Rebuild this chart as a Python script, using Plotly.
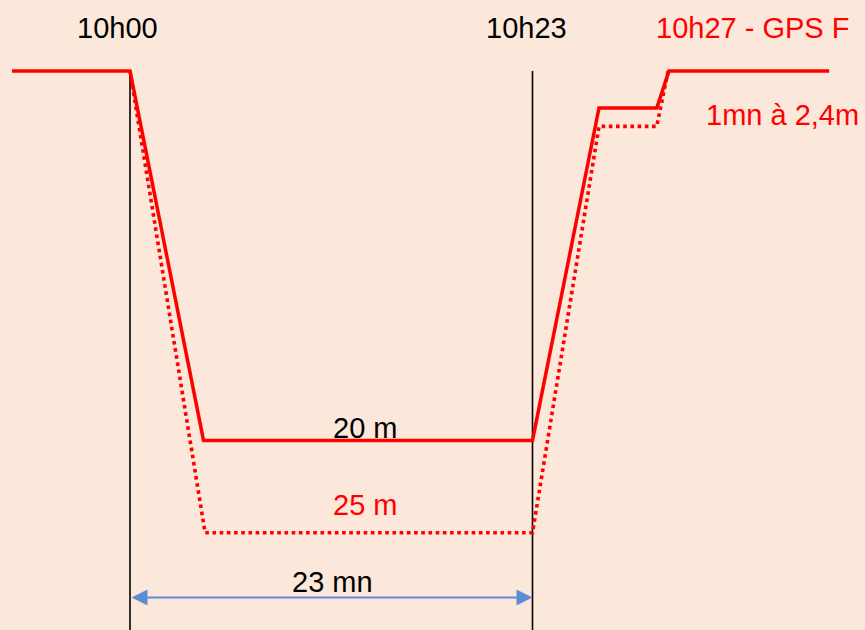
import plotly.graph_objects as go

# Dive profile (time in minutes from 10h00, depth in metres) - schematic values
solid_time = [-6.74, 0.0, 4.2, 23.0, 26.8, 30.1, 30.8, 39.95]
solid_depth = [0.0, 0.0, 20.0, 20.0, 2.0, 2.0, 0.0, 0.0]

dotted_time = [0.0, 4.29, 23.0, 26.8, 30.1, 30.75]
dotted_depth = [0.0, 25.0, 25.0, 3.0, 3.0, 0.0]

marker_times = [0.0, 23.0]          # 10h00 and 10h23 vertical markers
bottom_time_minutes = 23            # "23 mn"
arrow_depth = 28.5

labels_black = ["10h00", "10h23", "20 m", "23 mn"]
labels_red = ["10h27 - GPS F", "1mn à 2,4m", "25 m"]

W, H = 865, 630
BG = "#FCE8DA"
RED = "#FF0000"
BLUE = "#5B8ED6"
FONT = "Liberation Sans, Arial, sans-serif"

fig = go.Figure()

# vertical marker lines
vx, vy = [], []
for t in marker_times:
    vx += [t, t, None]
    vy += [0.0, 40.0, None]
fig.add_trace(go.Scatter(x=vx, y=vy, mode="lines",
                         line=dict(color="black", width=1.6),
                         hoverinfo="skip", showlegend=False))

fig.add_trace(go.Scatter(x=dotted_time, y=dotted_depth, mode="lines",
                         line=dict(color=RED, width=3.6, dash="dot"),
                         showlegend=False))
fig.add_trace(go.Scatter(x=solid_time, y=solid_depth, mode="lines",
                         line=dict(color=RED, width=3.5),
                         showlegend=False))

# axis mapping (pixel-calibrated)
kx = 17.5
ky = 18.47
x_range = [-130 / kx, (W - 130) / kx]
y_range = [(H - 71) / ky, -71 / ky]


def ann(text, px, py, color):
    return dict(text=text, x=px / W, y=1 - py / H, xref="paper", yref="paper",
                xanchor="center", yanchor="middle", showarrow=False,
                font=dict(family=FONT, size=29, color=color))


annotations = [
    ann(labels_black[0], 117.5, 28, "black"),
    ann(labels_black[1], 526.5, 28, "black"),
    ann(labels_black[2], 365, 427.5, "black"),
    ann(labels_black[3], 332, 581.5, "black"),
    ann(labels_red[0], 752.5, 28, RED),
    ann(labels_red[1], 782.5, 115, RED),
    ann(labels_red[2], 365, 504.5, RED),
]

annotations.append(dict(
    x=bottom_time_minutes, y=arrow_depth, ax=0, ay=arrow_depth,
    xref="x", yref="y", axref="x", ayref="y", text="", showarrow=True,
    arrowside="end+start", arrowhead=2, startarrowhead=2,
    arrowsize=1.6, startarrowsize=1.6, arrowwidth=2, arrowcolor=BLUE,
))

fig.update_layout(
    width=W, height=H,
    margin=dict(l=0, r=0, t=0, b=0),
    paper_bgcolor=BG, plot_bgcolor=BG,
    xaxis=dict(range=x_range, visible=False, showgrid=False, zeroline=False),
    yaxis=dict(range=y_range, visible=False, showgrid=False, zeroline=False),
    annotations=annotations,
    showlegend=False,
)

fig.write_html("out.html",
               config={"displayModeBar": False},
               post_script="document.body.style.margin='0';document.body.style.overflow='hidden';")
